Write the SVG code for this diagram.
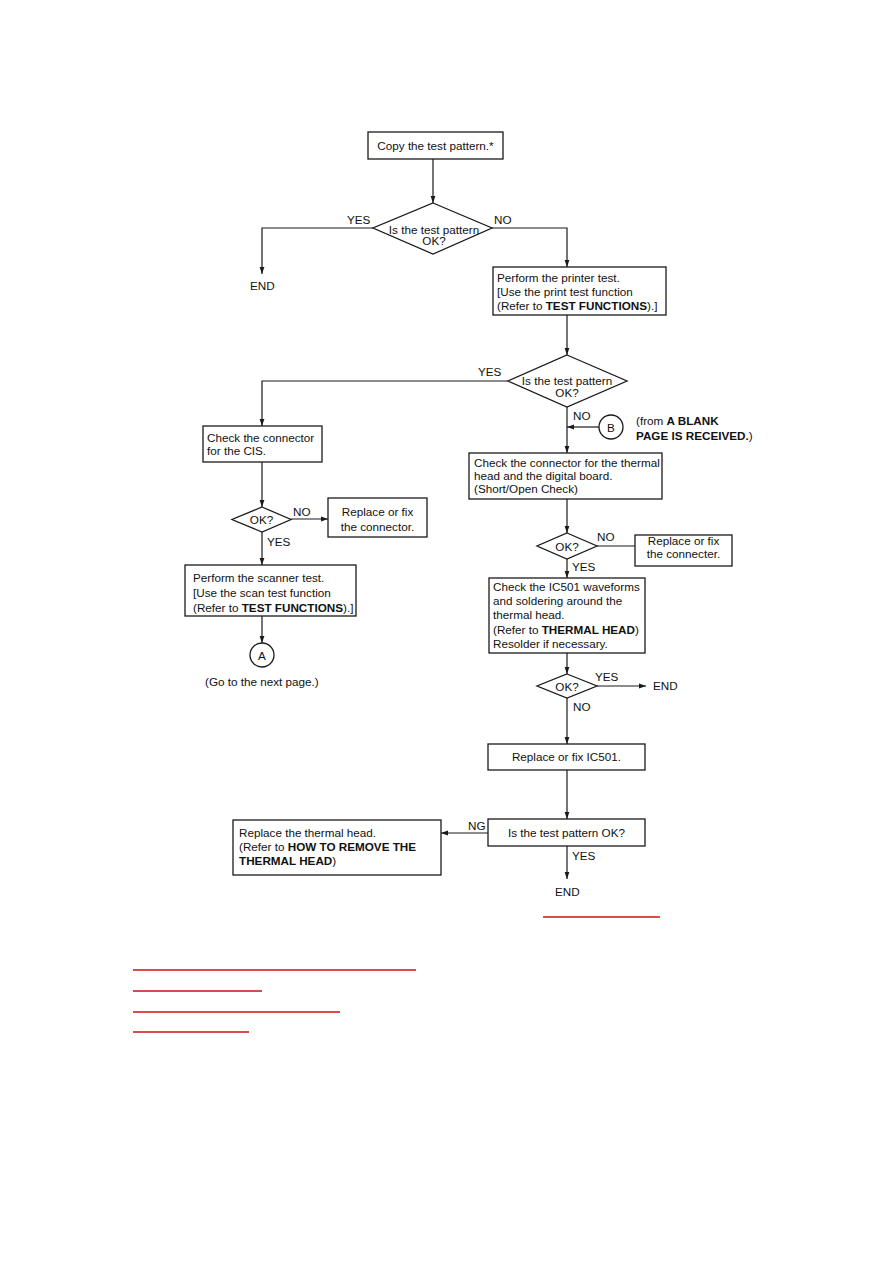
<svg xmlns="http://www.w3.org/2000/svg" width="893" height="1262" viewBox="0 0 893 1262">
<style>
.n{fill:#fff;stroke:#1a1a1a;stroke-width:1.3}
.c{fill:none;stroke:#1a1a1a;stroke-width:1.2}
text{font-family:"Liberation Sans",Arial,sans-serif;font-size:11.7px;fill:#111}
.m{text-anchor:middle}
.b{font-weight:bold}
.r{stroke:#cc1111;stroke-width:1.4}
</style>
<defs>
<marker id="ah" markerWidth="7" markerHeight="6" refX="7" refY="3" orient="auto" markerUnits="userSpaceOnUse">
<path d="M0,0.6 L7,3 L0,5.4 z" fill="#1a1a1a"/>
</marker>
</defs>
<rect width="893" height="1262" fill="#fff"/>

<g id="connectors">
<line class="c" x1="433" y1="159" x2="433" y2="203" marker-end="url(#ah)"/>
<polyline class="c" points="373,228 262,228 262,274" marker-end="url(#ah)"/>
<polyline class="c" points="492,228 567,228 567,267" marker-end="url(#ah)"/>
<line class="c" x1="567" y1="315" x2="567" y2="355" marker-end="url(#ah)"/>
<polyline class="c" points="508,381 262,381 262,426" marker-end="url(#ah)"/>
<line class="c" x1="262" y1="462" x2="262" y2="507" marker-end="url(#ah)"/>
<line class="c" x1="291" y1="519" x2="328" y2="519" marker-end="url(#ah)"/>
<line class="c" x1="262" y1="532" x2="262" y2="565" marker-end="url(#ah)"/>
<line class="c" x1="262" y1="616" x2="262" y2="643" marker-end="url(#ah)"/>
<line class="c" x1="567" y1="407" x2="567" y2="453" marker-end="url(#ah)"/>
<line class="c" x1="599" y1="427" x2="567" y2="427" marker-end="url(#ah)"/>
<line class="c" x1="567" y1="499" x2="567" y2="533" marker-end="url(#ah)"/>
<line class="c" x1="597" y1="546" x2="635" y2="546"/>
<line class="c" x1="567" y1="559" x2="567" y2="578" marker-end="url(#ah)"/>
<line class="c" x1="567" y1="653" x2="567" y2="674" marker-end="url(#ah)"/>
<line class="c" x1="597" y1="686" x2="646" y2="686" marker-end="url(#ah)"/>
<line class="c" x1="567" y1="698" x2="567" y2="744" marker-end="url(#ah)"/>
<line class="c" x1="567" y1="770" x2="567" y2="819" marker-end="url(#ah)"/>
<line class="c" x1="488" y1="833" x2="441" y2="833" marker-end="url(#ah)"/>
<line class="c" x1="567" y1="846" x2="567" y2="879" marker-end="url(#ah)"/>
<text x="347" y="224">YES</text>
<text x="494" y="224">NO</text>
<text x="478" y="376">YES</text>
<text x="573" y="420">NO</text>
<text x="293" y="516">NO</text>
<text x="267" y="546">YES</text>
<text x="597" y="541">NO</text>
<text x="572" y="571">YES</text>
<text x="595" y="681">YES</text>
<text x="573" y="711">NO</text>
<text x="468" y="830">NG</text>
<text x="572" y="860">YES</text>
</g>

<g id="copy">
<rect class="n" x="368" y="132" width="135" height="27"/>
<text class="m" x="435.5" y="150">Copy the test pattern.*</text>
</g>

<g id="dec1">
<polygon class="n" points="433,203 492,228 433,254 373,228"/>
<text class="m" x="434" y="234">Is the test pattern</text>
<text class="m" x="434" y="245">OK?</text>
</g>

<g id="end1"><text x="250" y="290">END</text></g>

<g id="printer">
<rect class="n" x="493" y="267" width="173" height="48"/>
<text x="497" y="282">Perform the printer test.</text>
<text x="497" y="296">[Use the print test function</text>
<text x="497" y="310">(Refer to <tspan class="b">TEST FUNCTIONS</tspan>).]</text>
</g>

<g id="dec2">
<polygon class="n" points="567,355 627,381 567,407 508,381"/>
<text class="m" x="567" y="385">Is the test pattern</text>
<text class="m" x="567" y="397">OK?</text>
</g>

<g id="cis">
<rect class="n" x="203" y="426" width="119" height="36"/>
<text x="207" y="442">Check the connector</text>
<text x="207" y="455">for the CIS.</text>
</g>

<g id="ok1">
<polygon class="n" points="262,507 291,519.5 262,532 232,519.5"/>
<text class="m" x="261.5" y="524">OK?</text>
</g>

<g id="fix1">
<rect class="n" x="328" y="498" width="99" height="39"/>
<text class="m" x="377.5" y="516">Replace or fix</text>
<text class="m" x="377.5" y="531">the connector.</text>
</g>

<g id="scanner">
<rect class="n" x="185" y="565" width="171" height="51"/>
<text x="193" y="582">Perform the scanner test.</text>
<text x="193" y="597">[Use the scan test function</text>
<text x="193" y="612">(Refer to <tspan class="b">TEST FUNCTIONS</tspan>).]</text>
</g>

<g id="connA">
<circle class="n" cx="262" cy="655" r="12"/>
<text class="m" x="262" y="659.5">A</text>
<text x="205" y="686">(Go to the next page.)</text>
</g>

<g id="connB">
<circle class="n" cx="611" cy="427" r="12"/>
<text class="m" x="611" y="431.5">B</text>
<text x="636" y="425">(from <tspan class="b">A BLANK</tspan></text>
<text x="636" y="440"><tspan class="b">PAGE IS RECEIVED.</tspan>)</text>
</g>

<g id="thermal">
<rect class="n" x="469" y="453" width="193" height="46"/>
<text x="474" y="467">Check the connector for the thermal</text>
<text x="474" y="480">head and the digital board.</text>
<text x="474" y="493">(Short/Open Check)</text>
</g>

<g id="ok2">
<polygon class="n" points="567,533 597,546 567,559 537,546"/>
<text class="m" x="567" y="550.5">OK?</text>
</g>

<g id="fix2">
<rect class="n" x="635" y="535" width="97" height="31"/>
<text class="m" x="683.5" y="545">Replace or fix</text>
<text class="m" x="683.5" y="558">the connecter.</text>
</g>

<g id="ic501check">
<rect class="n" x="489" y="578" width="156" height="75"/>
<text x="493" y="591">Check the IC501 waveforms</text>
<text x="493" y="605">and soldering around the</text>
<text x="493" y="619">thermal head.</text>
<text x="493" y="634">(Refer to <tspan class="b">THERMAL HEAD</tspan>)</text>
<text x="493" y="648">Resolder if necessary.</text>
</g>

<g id="ok3">
<polygon class="n" points="567,674 597,686 567,698 537,686"/>
<text class="m" x="567" y="690.5">OK?</text>
</g>

<g id="end2"><text x="653" y="690">END</text></g>

<g id="fixic">
<rect class="n" x="488" y="744" width="157" height="26"/>
<text class="m" x="566.5" y="761">Replace or fix IC501.</text>
</g>

<g id="final">
<rect class="n" x="488" y="819" width="157" height="27"/>
<text class="m" x="566.5" y="837">Is the test pattern OK?</text>
</g>

<g id="replacehead">
<rect class="n" x="233" y="820" width="208" height="55"/>
<text x="239" y="837">Replace the thermal head.</text>
<text x="239" y="851">(Refer to <tspan class="b">HOW TO REMOVE THE</tspan></text>
<text x="239" y="865"><tspan class="b">THERMAL HEAD</tspan>)</text>
</g>

<g id="end3"><text x="555" y="896">END</text></g>

<g id="links">
<line class="r" x1="543" y1="917" x2="660" y2="917"/>
<line class="r" x1="133" y1="970" x2="416" y2="970"/>
<line class="r" x1="133" y1="991" x2="262" y2="991"/>
<line class="r" x1="133" y1="1012" x2="340" y2="1012"/>
<line class="r" x1="133" y1="1032" x2="249" y2="1032"/>
</g>
</svg>
